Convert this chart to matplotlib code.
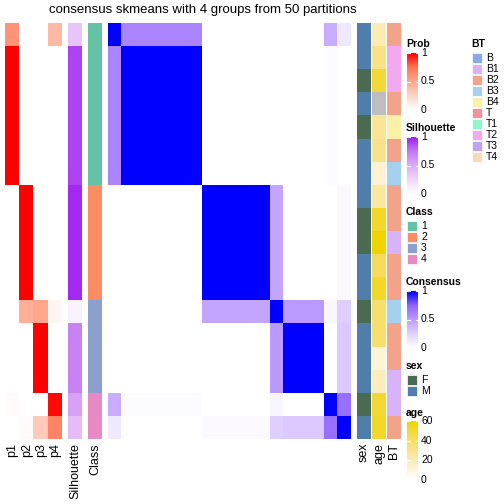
import numpy as np
import matplotlib
matplotlib.use('Agg')
import matplotlib.pyplot as plt
from matplotlib.colors import LinearSegmentedColormap, ListedColormap

plt.rcParams['font.family'] = ['Liberation Sans', 'DejaVu Sans']

## Data (rows/cols in sample order)
consensus = [
    [1.00, .60, .60, .60, .60, .60, .60, 0, 0, 0, 0, 0, 0, 0, 0, 0, .42, .12],
    [.60, 1, 1, 1, 1, 1, 1, 0, 0, 0, 0, 0, 0, 0, 0, 0, .02, 0],
    [.60, 1, 1, 1, 1, 1, 1, 0, 0, 0, 0, 0, 0, 0, 0, 0, .02, 0],
    [.60, 1, 1, 1, 1, 1, 1, 0, 0, 0, 0, 0, 0, 0, 0, 0, .02, 0],
    [.60, 1, 1, 1, 1, 1, 1, 0, 0, 0, 0, 0, 0, 0, 0, 0, .02, 0],
    [.60, 1, 1, 1, 1, 1, 1, 0, 0, 0, 0, 0, 0, 0, 0, 0, .02, 0],
    [.60, 1, 1, 1, 1, 1, 1, 0, 0, 0, 0, 0, 0, 0, 0, 0, .02, 0],
    [0, 0, 0, 0, 0, 0, 0, 1, 1, 1, 1, 1, .45, 0, 0, 0, 0, .03],
    [0, 0, 0, 0, 0, 0, 0, 1, 1, 1, 1, 1, .45, 0, 0, 0, 0, .03],
    [0, 0, 0, 0, 0, 0, 0, 1, 1, 1, 1, 1, .45, 0, 0, 0, 0, .03],
    [0, 0, 0, 0, 0, 0, 0, 1, 1, 1, 1, 1, .45, 0, 0, 0, 0, .03],
    [0, 0, 0, 0, 0, 0, 0, 1, 1, 1, 1, 1, .45, 0, 0, 0, 0, .03],
    [0, 0, 0, 0, 0, 0, 0, .45, .45, .45, .45, .45, 1, .50, .50, .50, .05, .25],
    [0, 0, 0, 0, 0, 0, 0, 0, 0, 0, 0, 0, .50, 1, 1, 1, 0, .28],
    [0, 0, 0, 0, 0, 0, 0, 0, 0, 0, 0, 0, .50, 1, 1, 1, 0, .28],
    [0, 0, 0, 0, 0, 0, 0, 0, 0, 0, 0, 0, .50, 1, 1, 1, 0, .28],
    [.42, .02, .02, .02, .02, .02, .02, 0, 0, 0, 0, 0, .05, 0, 0, 0, 1, .70],
    [.12, 0, 0, 0, 0, 0, 0, .03, .03, .03, .03, .03, .25, .28, .28, .28, .70, 1],
]
p1 = [.60, 1, 1, 1, 1, 1, 1, 0, 0, 0, 0, 0, 0, 0, 0, 0, .02, 0]
p2 = [0, 0, 0, 0, 0, 0, 0, 1, 1, 1, 1, 1, .45, 0, 0, 0, 0, .02]
p3 = [0, 0, 0, 0, 0, 0, 0, 0, 0, 0, 0, 0, .50, 1, 1, 1, 0, .30]
p4 = [.40, 0, 0, 0, 0, 0, 0, 0, 0, 0, 0, 0, .05, 0, 0, 0, .98, .68]
silhouette = [.35, .90, .90, .90, .90, .90, .90, .97, .97, .97, .97, .97, .08, .70, .70, .70, .55, .40]
cls = [1, 1, 1, 1, 1, 1, 1, 2, 2, 2, 2, 2, 3, 3, 3, 3, 4, 4]
sex = ['M', 'M', 'F', 'M', 'F', 'M', 'M', 'M', 'F', 'F', 'M', 'M', 'F', 'M', 'M', 'M', 'F', 'M']
age = [20, 32, 50, np.nan, 28, 30, 12, 25, 52, 60, 42, 52, 38, 38, 10, 18, 50, 52]
bt = ['B2', 'T2', 'T2', 'B2', 'B4', 'B2', 'B3', 'B2', 'B2', 'B1', 'B2', 'B2', 'B3', 'B2', 'B2', 'B1', 'B1', 'B2']

bt_levels = ['B', 'B1', 'B2', 'B3', 'B4', 'T', 'T1', 'T2', 'T3', 'T4']
bt_colors = ['#8AA9E8', '#D9B3F9', '#F2A38A', '#A5D0EE', '#FBF1A6', '#F3929A', '#8EF7CA', '#F3A9EF', '#C2A3F3', '#FCDAB6']
class_colors = ['#66C2A5', '#FC8D62', '#8DA0CB', '#E78AC3']
sex_levels = ['F', 'M']
sex_colors = ['#4A6A52', '#4F7EAA']

## Colormaps (approximate LAB ramps)
cm_prob = LinearSegmentedColormap.from_list('prob', ['#FFFFFF', '#FFD3C5', '#FFA78E', '#FF7656', '#FF0000'])
cm_sil = LinearSegmentedColormap.from_list('sil', ['#FFFFFF', '#EFD6FB', '#DCABF7', '#C47AF3', '#A020F0'])
cm_cons = LinearSegmentedColormap.from_list('cons', ['#FFFFFF', '#E0D0FF', '#BC9BFF', '#9066FF', '#0000FF'])
cm_age = LinearSegmentedColormap.from_list('age', ['#FFFFFF', '#FDF1C8', '#F9E48E', '#F5DB52', '#EED500'])
cm_age.set_bad('#BEBEBE')

W = 504.0
fig = plt.figure(figsize=(5.04, 5.04), dpi=100)

def px_axes(x0, y0, x1, y1) :
    ax = fig.add_axes([x0 / W, 1 - y1 / W, (x1 - x0) / W, (y1 - y0) / W])
    ax.set_axis_off()
    return ax

top, bottom = 23, 439
n = len(cls)

## Probability columns
ax = px_axes(5, top, 62, bottom)
ax.imshow(np.array([p1, p2, p3, p4]).T, cmap=cm_prob, vmin=0, vmax=1, aspect='auto', interpolation='nearest')

## Silhouette
ax = px_axes(68, top, 82, bottom)
ax.imshow(np.array([silhouette]).T, cmap=cm_sil, vmin=0, vmax=1, aspect='auto', interpolation='nearest')

## Class
ax = px_axes(88, top, 102, bottom)
ax.imshow(np.array([cls]).T - 1, cmap=ListedColormap(class_colors), vmin=-0.5, vmax=3.5, aspect='auto', interpolation='nearest')

## Consensus heatmap
ax = px_axes(108, top, 351, bottom)
ax.imshow(np.array(consensus), cmap=cm_cons, vmin=0, vmax=1, aspect='auto', interpolation='nearest')

## sex / age / BT
ax = px_axes(357, top, 371, bottom)
ax.imshow(np.array([[sex_levels.index(s) for s in sex]]).T, cmap=ListedColormap(sex_colors), vmin=-0.5, vmax=1.5, aspect='auto', interpolation='nearest')
ax = px_axes(372, top, 386, bottom)
ax.imshow(np.ma.masked_invalid(np.array([age]).T), cmap=cm_age, vmin=0, vmax=60, aspect='auto', interpolation='nearest')
ax = px_axes(387, top, 401, bottom)
ax.imshow(np.array([[bt_levels.index(b) for b in bt]]).T, cmap=ListedColormap(bt_colors), vmin=-0.5, vmax=9.5, aspect='auto', interpolation='nearest')

## Overlay for text and legends (pixel coordinates)
lax = fig.add_axes([0, 0, 1, 1], zorder=-1)
lax.set_xlim(0, W)
lax.set_ylim(W, 0)
lax.set_axis_off()

lax.text(203, 10, 'consensus skmeans with 4 groups from 50 partitions', ha='center', va='center', fontsize=9.5)

col_labels = [('p1', 12.5), ('p2', 27), ('p3', 41), ('p4', 55), ('Silhouette', 75), ('Class', 95),
              ('sex', 364), ('age', 379), ('BT', 394)]
for lab, x in col_labels :
    lax.text(x, 443, lab, rotation=90, ha='center', va='top', fontsize=9)

def colorbar_legend(title, y_title, y0, y1, cmap, ticks, labels) :
    lax.text(406, y_title, title, fontsize=7.5, fontweight='bold', va='center', ha='left')
    grad = np.linspace(1, 0, 100).reshape(-1, 1)
    lax.imshow(grad, cmap=cmap, vmin=0, vmax=1, extent=(407, 418, y1, y0), aspect='auto')
    for t, lab in zip(ticks, labels) :
        y = y1 - t * (y1 - y0)
        lax.plot([407, 409.5], [y, y], color='white', lw=0.8)
        lax.plot([415.5, 418], [y, y], color='white', lw=0.8)
        lax.text(421, y, lab, fontsize=7.5, va='center', ha='left')

def discrete_legend(title, x, y_title, labels, colors) :
    lax.text(x - 1, y_title, title, fontsize=7.5, fontweight='bold', va='center', ha='left')
    for i, (lab, c) in enumerate(zip(labels, colors)) :
        y = y_title + 9 + i * 11
        lax.add_patch(plt.Rectangle((x, y), 10, 10, facecolor=c, edgecolor='white', lw=0.5))
        lax.text(x + 14, y + 5, lab, fontsize=7.5, va='center', ha='left')

colorbar_legend('Prob', 44, 53, 110, cm_prob, [0, 0.5, 1], ['0', '0.5', '1'])
colorbar_legend('Silhouette', 128, 137, 194, cm_sil, [0, 0.5, 1], ['0', '0.5', '1'])
discrete_legend('Class', 407, 212, ['1', '2', '3', '4'], class_colors)
colorbar_legend('Consensus', 282, 291, 348, cm_cons, [0, 0.5, 1], ['0', '0.5', '1'])
discrete_legend('sex', 407, 366, sex_levels, sex_colors)
colorbar_legend('age', 413, 421, 480, cm_age, [0, 1/3, 2/3, 1], ['0', '20', '40', '60'])
discrete_legend('BT', 472, 44, bt_levels, bt_colors)

fig.savefig('out.png', dpi=100)
